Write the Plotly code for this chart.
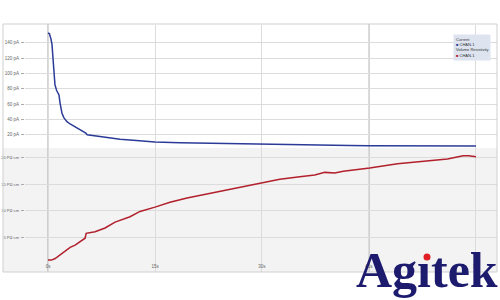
import plotly.graph_objects as go

# ---- data ----
t_current = [0, 0.2, 0.42, 0.56, 0.7, 0.84, 0.98, 1.2, 1.4, 1.54, 1.68, 1.96, 2.24, 2.66, 3.1, 3.8,
             4.5, 5.3, 5.5, 6.6, 7.3, 8.7, 10.1, 11.5, 15.0, 18.5, 24.0, 30.0, 35.3, 42.3, 45.0,
             49.3, 55.0, 60.0]
current_pA = [153, 152, 145, 138, 120, 100, 85, 78, 75, 72, 62, 48, 42, 37, 34, 30,
              27, 22, 20, 18.5, 17, 15.5, 14, 13, 10.5, 9.5, 8.5, 7.4, 6.8, 6.0, 5.7,
              5.6, 5.4, 5.2]

t_resist = [0, 0.5, 1.0, 1.7, 2.4, 3.1, 3.8, 5.2, 5.35, 6.6, 8.0, 9.4, 11.5, 12.9, 15.0, 17.1,
            19.5, 23.1, 25.5, 30.0, 32.5, 35.3, 37.4, 38.8, 40.2, 41.4, 45.1, 49.0, 53.6,
            56.0, 58.2, 59.0, 60.0]
resist_POcm = [0.8, 0.8, 1.1, 1.8, 2.6, 3.2, 3.6, 4.9, 5.8, 6.1, 6.8, 7.9, 8.9, 9.9, 10.7, 11.6,
               12.4, 13.4, 14.0, 15.2, 15.9, 16.4, 16.7, 17.2, 17.1, 17.4, 18.0, 18.8, 19.4,
               19.7, 20.3, 20.3, 20.1]

x_tickvals = [0, 15, 30, 45, 60]
x_ticktext = ["0s", "15s", "30s", "45s", "1m"]
top_tickvals = [20, 40, 60, 80, 100, 120, 140]
top_ticktext = ["20 pA", "40 pA", "60 pA", "80 pA", "100 pA", "120 pA", "140 pA"]
bot_tickvals = [5, 10, 15, 20]
bot_ticktext = ["5 PΩ·cm", "10 PΩ·cm", "15 PΩ·cm", "20 PΩ·cm"]

BLUE = "#2c3b97"
RED = "#b1202c"

# pixel helpers (layout constants)
W, H = 500, 300
ML, MR, MT, MB = 25, 3, 25, 28
PW, PH = W - ML - MR, H - MT - MB
def px(x):
    return (x - ML) / PW
def py(y):
    return (H - MB - y) / PH

split = py(148)

fig = go.Figure()
fig.add_trace(go.Scatter(x=t_current, y=current_pA, mode="lines", line=dict(color=BLUE, width=1.5),
                         xaxis="x", yaxis="y", showlegend=False))
fig.add_trace(go.Scatter(x=t_resist, y=resist_POcm, mode="lines", line=dict(color=RED, width=1.5),
                         xaxis="x2", yaxis="y2", showlegend=False))

xr = [(ML - 48) / 7.133, (W - MR - 48) / 7.133]
topfont = dict(family="Liberation Sans", size=4.5, color="#666")
botfont = dict(family="Liberation Sans Narrow, Liberation Sans", size=4, color="#666")

fig.update_layout(
    width=W, height=H,
    margin=dict(l=ML, r=MR, t=MT, b=MB),
    paper_bgcolor="white", plot_bgcolor="white",
    xaxis=dict(domain=[0, 1], anchor="y", range=xr, tickvals=x_tickvals, showticklabels=False,
               showgrid=True, gridcolor="#dcdcdc", gridwidth=1, zeroline=False, showline=False, ticks="",
               automargin=False),
    xaxis2=dict(domain=[0, 1], anchor="y2", range=xr, tickvals=x_tickvals, ticktext=x_ticktext,
                showgrid=True, gridcolor="#dcdcdc", gridwidth=1, zeroline=False, showline=False, ticks="",
                ticklabelposition="inside", tickfont=topfont, automargin=False),
    yaxis=dict(domain=[split, 1], anchor="x", range=[(150 - 148) / 0.765, (150 - 25) / 0.765],
               tickvals=top_tickvals, ticktext=top_ticktext, showgrid=True, gridcolor="#dcdcdc",
               zeroline=False, showline=False, ticks="outside", ticklen=3, tickcolor="#aaa",
               tickfont=topfont, ticklabelstandoff=1, automargin=False),
    yaxis2=dict(domain=[0, split], anchor="x2", range=[-(272 - 264.4) / 5.35, (264.4 - 148) / 5.35],
                tickvals=bot_tickvals, ticktext=bot_ticktext, showgrid=True, gridcolor="#dcdcdc",
                zeroline=False, showline=False, ticks="outside", ticklen=3, tickcolor="#aaa",
                tickfont=botfont, ticklabelstandoff=1, automargin=False),
)

shapes = [
    # gray lower panel background (extends under labels)
    dict(type="rect", xref="paper", yref="paper", x0=px(3), x1=px(497), y0=py(272), y1=split,
         fillcolor="#f3f3f3", line=dict(width=0), layer="below"),
    # outer frame
    dict(type="rect", xref="paper", yref="paper", x0=px(3), x1=px(497), y0=py(272), y1=py(24),
         fillcolor="rgba(0,0,0,0)", line=dict(color="#cfcfcf", width=1), layer="above"),
]
# darker cursor-like vertical lines
for xv in [0, 45]:
    shapes.append(dict(type="line", xref="x", yref="paper", x0=xv, x1=xv, y0=py(272), y1=py(24),
                       line=dict(color="#a8a8a8", width=1), layer="below"))

annotations = [
    dict(xref="paper", yref="paper", x=px(453), y=py(34), xanchor="left", yanchor="top",
         showarrow=False, align="left", bgcolor="#dde3ef", borderpad=2,
         font=dict(family="Liberation Sans", size=4, color="#333"),
         text=("Current<br><span style='color:%s'>■</span> CHAN-1<br>Volume Resistivity<br>"
               "<span style='color:%s'>■</span> CHAN-1") % (BLUE, RED)),
    dict(xref="paper", yref="paper", x=px(500), y=py(240), xanchor="right", yanchor="top",
         showarrow=False, text="<b>Ag\u0131tek</b>",
         font=dict(family="Liberation Serif", size=50, color="#1d1b6e")),
]
# red dot on the "i" of the logo
shapes.append(dict(type="circle", xref="paper", yref="paper", x0=px(423.5), x1=px(430.5),
                   y0=py(260.5), y1=py(253.5), fillcolor="#e01f26", line=dict(width=0), layer="above"))

fig.update_layout(shapes=shapes, annotations=annotations)

fig.write_html("out.html")
